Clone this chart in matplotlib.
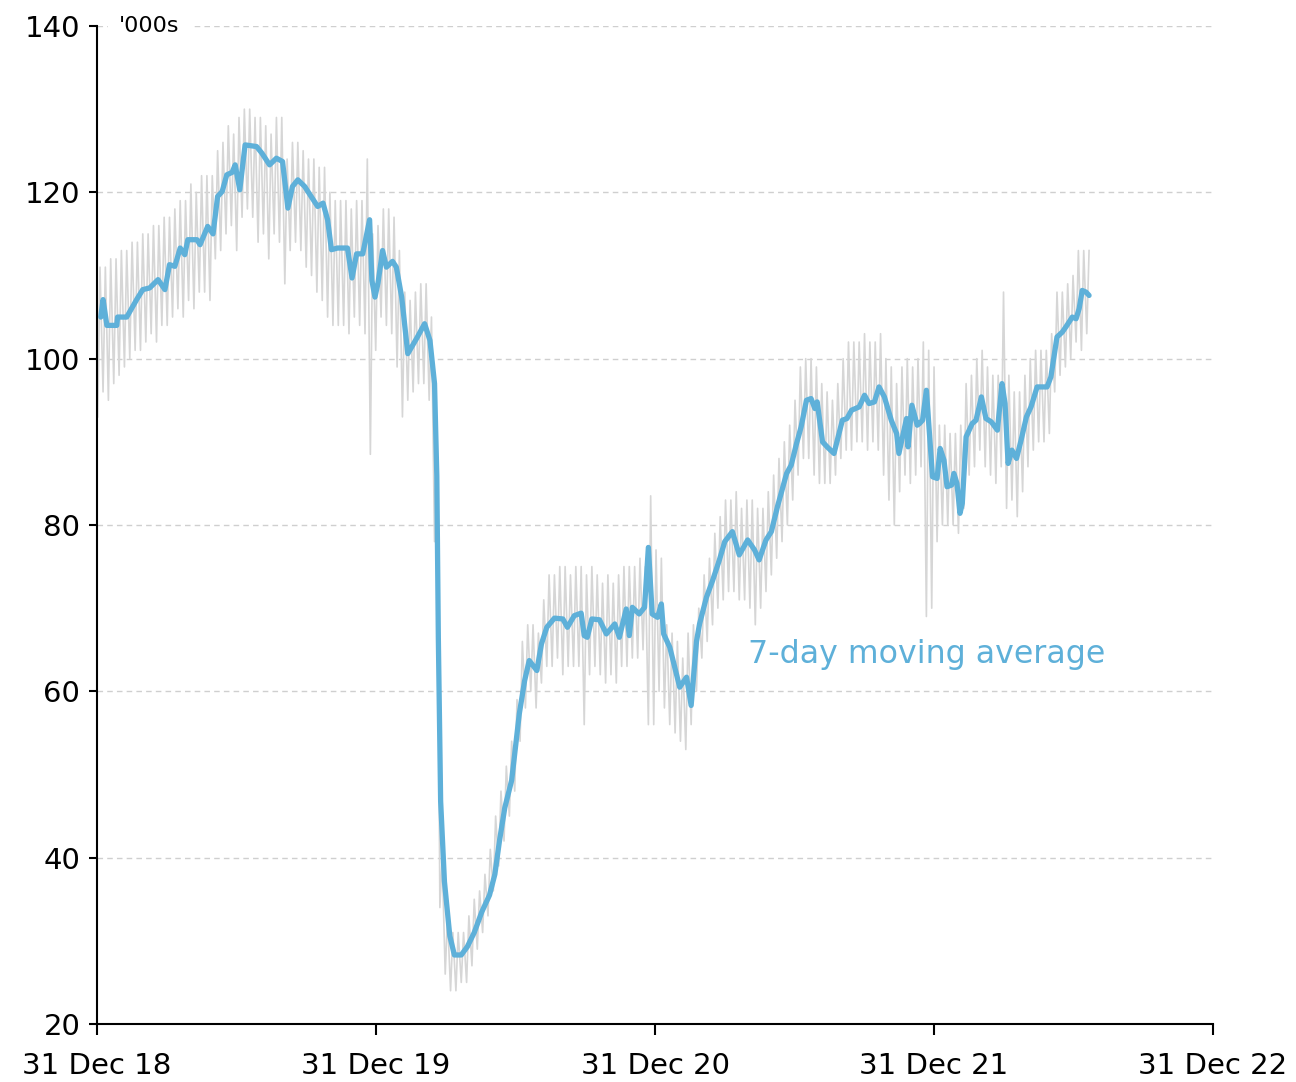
import pandas as pd
import matplotlib
matplotlib.use("Agg")
import matplotlib.pyplot as plt
import matplotlib.dates as mdates

# ============================
#  Data ('000s)
# ============================
BASE = pd.Timestamp("2018-12-31")

# 7-day moving average: day offset from 31 Dec 18 -> value
ma_days = [
    5, 8, 13, 26, 27, 39, 52, 60, 69, 80, 89, 95, 102, 109, 115, 119, 131, 135,
    145, 152, 158, 164, 170, 177, 181, 187, 194, 209, 216, 226, 235, 243, 250,
    256, 263, 272, 279, 289, 296, 302, 307, 315, 328,
    334, 340, 348, 357, 360, 364, 368, 374, 379, 387, 392, 399, 407, 419, 429,
    436, 442, 445, 447, 450, 455, 462, 468, 477, 485,
    494, 504, 514, 521, 527, 534, 543,
    553, 560, 566, 576, 582, 589, 599, 610, 616, 625, 634, 638, 642, 648, 658,
    667, 678, 684, 693, 697, 701, 710, 717, 722, 727, 734, 739, 742, 750, 763,
    772, 778, 785,
    789, 798, 806, 815, 822, 832, 841, 852, 861, 867, 876, 883, 891, 903, 909,
    916, 922, 929, 935, 940, 943, 950, 956, 965, 976, 982, 988, 998, 1005, 1011,
    1018, 1024, 1031, 1040, 1047, 1050, 1060, 1062, 1067, 1074, 1077, 1081, 1086,
    1094, 1100, 1104, 1109, 1113, 1119, 1122, 1126, 1130, 1133, 1138, 1142, 1146,
    1151, 1158, 1164, 1171, 1179, 1185, 1189, 1193, 1198, 1204, 1210, 1217, 1223,
    1231, 1244, 1249, 1257, 1264, 1270, 1277, 1282, 1286, 1290, 1295, 1299,
]
ma_vals = [
    105.0, 107.1, 104.0, 104.0, 105.0, 105.0, 107.1, 108.3, 108.5, 109.5, 108.3,
    111.3, 111.1, 113.3, 112.5, 114.3, 114.3, 113.7, 115.9, 115.0, 119.5, 120.1,
    122.1, 122.4, 123.3, 120.3, 125.7, 125.5, 124.7, 123.3, 124.1, 123.7, 118.1,
    120.7, 121.5, 120.7, 119.7, 118.3, 118.7, 116.7, 113.1, 113.3, 113.3,
    109.7, 112.6, 112.6, 116.7, 109.4, 107.4, 109.1, 113.0, 111.0, 111.7, 111.0,
    107.4, 100.6, 102.5, 104.2, 102.2, 97.0, 85.9, 66.4, 46.8, 37.1, 30.6, 28.3,
    28.3, 29.3,
    31.0, 33.5, 35.5, 38.0, 42.0, 46.0, 49.3,
    57.3, 61.3, 63.7, 62.5, 65.7, 67.7, 68.8, 68.7, 67.7, 69.1, 69.4, 66.7, 66.5,
    68.7, 68.6, 66.9, 68.1, 66.5, 69.9, 66.7, 70.1, 69.3, 70.1, 77.3, 69.3, 68.9,
    70.5, 66.9, 65.3, 60.5, 61.7, 58.3, 66.0,
    68.1, 71.3, 73.3, 75.8, 78.0, 79.2, 76.4, 78.2, 77.0, 75.8, 78.2, 79.2, 82.2,
    86.2, 87.2, 89.8, 91.8, 95.0, 95.2, 94.0, 94.8, 90.0, 89.4, 88.6, 92.6, 92.8,
    93.8, 94.2, 95.6, 94.6, 94.8, 96.6, 95.4, 92.6, 91.0, 88.6, 92.8, 89.4, 94.4,
    92.0, 92.2, 92.6, 96.2, 85.8, 85.6, 89.2, 87.8, 84.6, 84.8, 86.2, 85.0, 81.4,
    82.6, 90.6, 91.4, 92.2, 92.6, 95.4, 92.8, 92.4, 91.4, 97.0, 94.6, 87.4, 89.0,
    88.0, 90.2, 93.0, 94.2, 96.6, 96.6, 97.8, 102.6, 103.2, 104.0, 105.0, 104.8,
    106.0, 108.2, 108.0, 107.6,
]

# daily series, summarised per week: weekday high and weekend low
week_hi = [
    111, 111, 112, 112, 113, 113, 114, 114, 115, 115,
    116, 116, 117, 117, 118, 119, 119, 121, 120, 122,
    122, 122, 125, 126, 128, 127, 129, 130, 130, 129,
    129, 128, 127, 129, 129, 124, 126, 126, 125, 124,
    124, 123, 123, 120, 119, 119, 119, 118, 119, 119,
    124, 115, 116, 118, 118, 117, 113, 108, 107, 108,
    109, 109, 105, 92, 40, 33, 31, 31, 31, 33,
    35, 36, 38, 41, 45, 48, 51, 54, 59, 66,
    68, 68, 67, 71, 74, 74, 75, 75, 74, 75,
    75, 74, 75, 74, 73, 74, 73, 74, 75, 75,
    75, 76, 75, 83.5, 77, 76, 68, 67, 66, 64,
    67, 68, 70, 74, 76, 79, 81, 83, 83, 84,
    82, 83, 83, 82, 82, 84, 86, 88, 90, 92,
    95, 99, 100, 100, 99, 97, 96, 95, 97, 100,
    102, 102, 102, 103, 102, 102, 103, 100, 99, 97,
    99, 100, 99, 100, 102, 101, 99, 92, 92, 91,
    91, 92, 97, 98, 100, 101, 99, 98, 98, 108,
    98, 96, 96, 98, 100, 101, 101, 101, 103, 108,
    108, 109, 110, 113, 113, 113,
]
week_lo = [
    93, 96, 95, 97, 98, 99, 100, 101, 101, 102,
    103, 102, 104, 104, 105, 106, 105, 107, 106, 108,
    108, 107, 112, 113, 115, 116, 113, 117, 118, 117,
    114, 115, 112, 115, 114, 109, 113, 114, 113, 111,
    110, 108, 107, 105, 104, 104, 104, 103, 105, 104,
    103, 88.5, 101, 105, 104, 103, 99, 93, 95, 96,
    97, 97, 95, 78, 34, 26, 24, 24, 25, 25,
    27, 29, 31, 33, 36, 39, 42, 45, 48, 54,
    58, 60, 58, 61, 63, 63, 64, 62, 63, 63,
    63, 56, 62, 63, 62, 61, 62, 61, 63, 63,
    64, 64, 65, 56, 56, 60, 58, 56, 55, 54,
    53, 56, 60, 64, 66, 68, 70, 71, 72, 72,
    71, 71, 70, 68, 70, 72, 74, 76, 78, 80,
    83, 86, 88, 88, 86, 85, 85, 85, 86, 88,
    89, 89, 90, 90, 89, 90, 89, 86, 83, 80,
    84, 86, 85, 86, 87, 69, 70, 78, 80, 80,
    80, 79, 82, 86, 87, 89, 87, 86, 85, 87,
    82, 83, 81, 84, 87, 89, 90, 90, 91, 96,
    98, 99, 100, 102, 101, 103,
]

year_ticks = ["2018-12-31", "2019-12-31", "2020-12-31", "2021-12-31", "2022-12-31"]
y_ticks = [20, 40, 60, 80, 100, 120, 140]

BLUE = "#5eb0d9"
GREY = "#d6d6d6"

# ============================
#  Build series
# ============================
ma_dates = BASE + pd.to_timedelta(ma_days, unit="D")

grey_days = []
grey_vals = []
for w in range(len(week_hi)):
    grey_days += [7 * w + 1, 7 * w + 4]
    grey_vals += [week_lo[w], week_hi[w]]
grey_dates = BASE + pd.to_timedelta(grey_days, unit="D")

# ============================
#  Plot
# ============================
plt.rcParams["font.family"] = ["DejaVu Sans"]

fig = plt.figure(figsize=(12.96, 10.82), dpi=100)
ax = fig.add_axes([0.0748, 0.0536, 0.861, 0.9224])

ax.plot(grey_dates, grey_vals, color=GREY, lw=1.2, zorder=2)
ax.plot(ma_dates, ma_vals, color=BLUE, lw=3.8, solid_joinstyle="round",
        solid_capstyle="round", zorder=3)

ax.set_xlim(pd.Timestamp(year_ticks[0]), pd.Timestamp(year_ticks[-1]))
ax.set_ylim(20, 140)
ax.set_xticks([pd.Timestamp(d) for d in year_ticks])
ax.xaxis.set_major_formatter(mdates.DateFormatter("%d %b %y"))
ax.set_yticks(y_ticks)

ax.grid(axis="y", color="#cfcfcf", linestyle=(0, (4, 3)), lw=1.0, zorder=0)
ax.set_axisbelow(True)

for s in ["top", "right"]:
    ax.spines[s].set_visible(False)
for s in ["left", "bottom"]:
    ax.spines[s].set_color("black")
    ax.spines[s].set_linewidth(1.5)

ax.tick_params(axis="y", length=6, width=1.5, labelsize=21, pad=6)
ax.tick_params(axis="x", length=8, width=1.5, labelsize=21, pad=12)

ax.text(0.02, 1.0, "'000s", transform=ax.transAxes, fontsize=16,
        va="center", ha="left",
        bbox=dict(facecolor="white", edgecolor="none", pad=8), zorder=5)

ax.text(pd.Timestamp("2021-05-01"), 64.4, "7-day moving average", color=BLUE,
        fontsize=22.8, va="center", ha="left", zorder=5)

fig.savefig("out.png", dpi=100)
